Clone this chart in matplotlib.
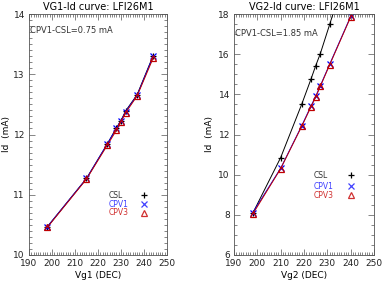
import numpy as np
import matplotlib
matplotlib.use('Agg')
import matplotlib.pyplot as plt
from matplotlib.ticker import MultipleLocator

# VG1 sweep
vg1 = [198, 215, 224, 228, 230, 232, 237, 244]
csl_1 = [10.47, 11.27, 11.84, 12.11, 12.23, 12.39, 12.66, 13.31]
cpv1_1 = [10.47, 11.27, 11.84, 12.10, 12.23, 12.38, 12.65, 13.30]
cpv3_1 = [10.46, 11.26, 11.82, 12.07, 12.21, 12.36, 12.64, 13.27]

# VG2 sweep
vg2 = [198, 210, 219, 223, 225, 227, 231, 240]
csl_2 = [8.07, 10.85, 13.50, 14.76, 15.42, 16.03, 17.48, 20.8]
cpv1_2 = [8.10, 10.32, 12.43, 13.42, 13.90, 14.43, 15.50, 17.88]
cpv3_2 = [8.03, 10.30, 12.40, 13.38, 13.86, 14.40, 15.47, 17.85]

plt.rcParams['font.family'] = 'DejaVu Sans'
plt.rcParams['font.size'] = 6.5

fig = plt.figure(figsize=(3.82, 2.84), dpi=100)

W, H = 382.0, 284.0
ax1 = fig.add_axes([29 / W, (H - 255) / H, 138 / W, 241 / H])
ax2 = fig.add_axes([234 / W, (H - 255) / H, 140 / W, 241 / H])


def style(ax, ymaj, ymin):
    ax.set_xlim(190, 250)
    ax.xaxis.set_major_locator(MultipleLocator(10))
    ax.xaxis.set_minor_locator(MultipleLocator(1))
    ax.yaxis.set_major_locator(MultipleLocator(ymaj))
    ax.yaxis.set_minor_locator(MultipleLocator(ymin))
    ax.tick_params(which='both', direction='in', top=True, right=True,
                   width=0.5, color='#555555', labelsize=6.5, pad=3,
                   labelcolor='#222222')
    ax.tick_params(which='major', length=4)
    ax.tick_params(which='minor', length=2)
    for s in ax.spines.values():
        s.set_linewidth(0.6)
        s.set_color('#555555')


def draw(ax, x, csl, cpv1, cpv3):
    ax.plot(x, csl, color='black', lw=0.7, marker='+', ms=5, mew=0.9)
    ax.plot(x, cpv1, color='blue', lw=0.7, marker='x', ms=4, mew=0.9)
    ax.plot(x, cpv3, color='#c00000', lw=0.7, marker='^', ms=4.5, mew=0.9,
            mfc='none')


draw(ax1, vg1, csl_1, cpv1_1, cpv3_1)
style(ax1, 1, 0.1)
ax1.set_ylim(10, 14)
ax1.set_title('VG1-Id curve: LFI26M1', fontsize=7, pad=3)
ax1.set_xlabel('Vg1 (DEC)', fontsize=6.5, labelpad=2)
ax1.set_ylabel('Id  (mA)', fontsize=6.5)
ax1.yaxis.set_label_coords(-0.13, 0.5)
ax1.text(190.3, 13.68, 'CPV1-CSL=0.75 mA', fontsize=6, color='#333333')

# legend, IDL style
for (lab, col, y, mk) in [('CSL', '#333333', 10.99, '+'),
                          ('CPV1', '#4040ff', 10.84, 'x'),
                          ('CPV3', '#d03030', 10.70, '^')]:
    ax1.text(224.5, y, lab, fontsize=5.5, color=col, va='center')
    ax1.plot([240], [y], marker=mk, color=col if col != '#333333' else 'black',
             ms=4.5, mew=0.9, mfc='none', ls='none')

draw(ax2, vg2, csl_2, cpv1_2, cpv3_2)
style(ax2, 2, 0.5)
ax2.set_ylim(6, 18)
ax2.set_title('VG2-Id curve: LFI26M1', fontsize=7, pad=3)
ax2.set_xlabel('Vg2 (DEC)', fontsize=6.5, labelpad=2)
ax2.set_ylabel('Id  (mA)', fontsize=6.5)
ax2.yaxis.set_label_coords(-0.14, 0.5)
ax2.text(190.3, 16.9, 'CPV1-CSL=1.85 mA', fontsize=6, color='#333333')

for (lab, col, y, mk) in [('CSL', '#333333', 9.97, '+'),
                          ('CPV1', '#4040ff', 9.42, 'x'),
                          ('CPV3', '#d03030', 8.97, '^')]:
    ax2.text(224.0, y, lab, fontsize=5.5, color=col, va='center')
    ax2.plot([240], [y], marker=mk, color=col if col != '#333333' else 'black',
             ms=4.5, mew=0.9, mfc='none', ls='none')

fig.savefig('out.png', dpi=100)
